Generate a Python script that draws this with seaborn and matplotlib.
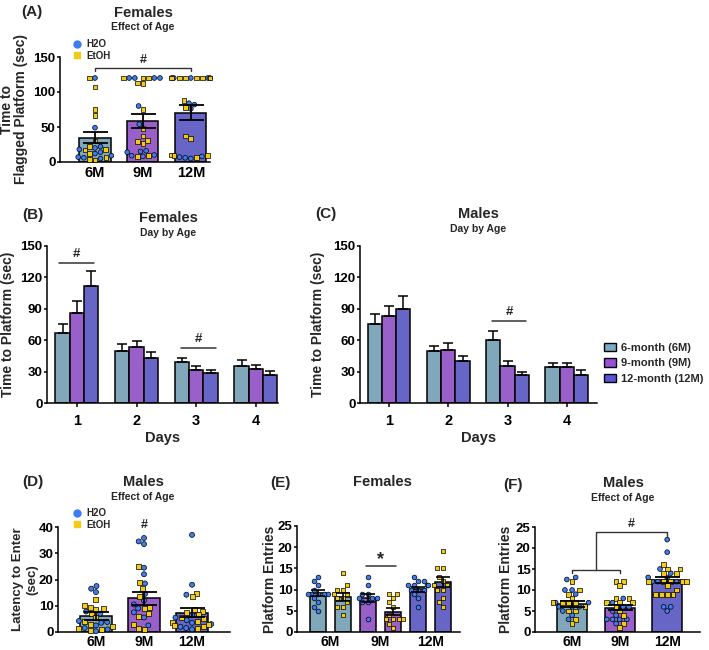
"""
Water maze multi-panel figure: age effects in females / males
"""

import numpy as np
import pandas as pd
import matplotlib
matplotlib.use('Agg')
import matplotlib.pyplot as plt
import matplotlib.colors as mcolors
import seaborn as sns
from matplotlib.lines import Line2D
from matplotlib.patches import Patch
from matplotlib.markers import MarkerStyle
from matplotlib.collections import PathCollection
import warnings
warnings.filterwarnings('ignore')

# Grafik ayarları
sns.set_theme(style='ticks')
plt.rcParams['font.family'] = ['Liberation Sans', 'DejaVu Sans']
plt.rcParams['font.weight'] = 'bold'
plt.rcParams['axes.labelweight'] = 'bold'
plt.rcParams['axes.edgecolor'] = 'black'
plt.rcParams['xtick.color'] = 'black'
plt.rcParams['ytick.color'] = 'black'

AGE_COLORS = ['#77ACC4', '#9A4FDA', '#5755D6']
H2O_COLOR = '#3E7CEF'
ETOH_COLOR = '#F3CA16'

ages = ['6M', '9M', '12M']
days = [1, 2, 3, 4]
age_legend = ['6-month (6M)', '9-month (9M)', '12-month (12M)']

# (A) females, time to flagged platform
a_mean = [34.5, 58.5, 70.5]
a_sem = [8.0, 10.5, 10.5]
a_h2o_6m = [120, 49, 22, 20, 18, 14, 12, 9, 7, 6, 5]
a_etoh_6m = [120, 107, 75, 66, 30, 22, 18, 17, 12, 6, 4, 3]
a_h2o_9m = [120, 120, 120, 120, 80, 54, 16, 15, 14, 10, 9, 8]
a_etoh_9m = [120, 120, 120, 113, 112, 75, 48, 37, 31, 29, 26, 9, 8]
a_h2o_12m = [120, 120, 120, 120, 120, 84, 82, 76, 8, 7, 6, 5]
a_etoh_12m = [120, 120, 120, 120, 120, 120, 88, 78, 37, 34, 10, 9, 9, 6]

# (B) females, day by age
b_mean_6m = [67.2, 50.1, 39.0, 35.8]
b_mean_9m = [86.3, 53.3, 31.1, 32.7]
b_mean_12m = [111.6, 42.8, 28.5, 27.0]
b_sem_6m = [8.0, 6.7, 4.4, 5.1]
b_sem_9m = [11.4, 6.0, 3.8, 3.8]
b_sem_12m = [14.6, 6.4, 3.2, 3.1]

# (C) males, day by age
c_mean_6m = [75.8, 49.4, 59.9, 34.4]
c_mean_9m = [82.8, 51.0, 35.0, 34.4]
c_mean_12m = [89.5, 39.8, 27.1, 27.1]
c_sem_6m = [8.9, 5.1, 9.2, 3.5]
c_sem_9m = [9.9, 6.6, 5.1, 3.5]
c_sem_12m = [13.0, 4.8, 2.8, 4.1]

# (D) males, latency to enter
d_mean = [6.1, 12.8, 7.4]
d_sem = [1.5, 2.4, 1.8]
d_h2o_6m = [17.5, 16.5, 15.2, 7.8, 7.0, 4.2, 3.8, 3.5, 2.5, 1.5, 1.0, 0.3]
d_etoh_6m = [12.5, 10.0, 9.3, 8.8, 8.5, 7.0, 5.5, 4.0, 3.0, 2.0, 1.5, 1.0, 0.5]
d_h2o_9m = [35.8, 34.5, 33.5, 24.5, 22.0, 18.5, 14.5, 12.0, 10.5, 9.0, 7.5, 5.5, 2.5]
d_etoh_9m = [25.0, 18.8, 16.5, 13.5, 9.5, 9.0, 7.0, 6.0, 3.0, 1.5, 1.0]
d_h2o_12m = [37.0, 18.0, 14.2, 6.5, 5.5, 4.5, 3.5, 3.0, 2.0, 1.5, 1.0]
d_etoh_12m = [14.8, 13.5, 8.5, 8.0, 7.5, 6.5, 5.5, 5.0, 4.0, 3.5, 3.0, 2.5, 2.0, 1.5]

# (E) females, platform entries by age x drink
e_groups = ['6M H2O', '6M EtOH', '9M H2O', '9M EtOH', '12M H2O', '12M EtOH']
e_mean = [9.3, 8.3, 8.0, 4.8, 10.1, 11.7]
e_sem = [0.7, 0.9, 0.9, 0.9, 0.6, 1.2]
e_h2o_6m = [13, 12, 11, 10, 9, 9, 9, 9, 9, 8, 7, 6, 5]
e_etoh_6m = [14, 11, 10, 10, 9, 9, 8, 8, 7, 6, 6, 4]
e_h2o_9m = [13, 11, 9, 9, 8, 8, 8, 7, 7, 3]
e_etoh_9m = [9, 9, 8, 7, 6, 4, 3, 3, 3, 3, 2, 1]
e_h2o_12m = [13, 12, 12, 11, 11, 11, 11, 10, 10, 10, 9, 8, 6]
e_etoh_12m = [19, 15, 15, 13, 12, 11, 11, 10, 10, 8, 7, 6]

# (F) males, platform entries
f_mean = [6.7, 5.8, 12.4]
f_sem = [0.7, 0.6, 0.7]
f_h2o_6m = [13, 12.5, 10, 10, 9, 7, 7, 6, 6, 6, 5, 4, 3]
f_etoh_6m = [12, 10, 9, 8, 7, 7, 7, 7, 6, 5, 5, 3, 2]
f_h2o_9m = [8, 7, 6, 6, 5, 4, 3, 3, 3, 3, 2]
f_etoh_9m = [12, 12, 11, 8, 8, 7, 7, 7, 6, 5, 4, 2, 1]
f_h2o_12m = [22, 19, 15, 14, 13, 13, 12, 12, 12, 6, 6, 5]
f_etoh_12m = [16, 15, 15, 14, 14, 12, 12, 12, 12, 12, 11, 10, 9, 9, 9, 9]

W, H = 709, 650
fig = plt.figure(figsize=(W / 100, H / 100), dpi=100)


def add_axes(x0, y0, x1, y1):
    return fig.add_axes([x0 / W, 1 - y1 / H, (x1 - x0) / W, (y1 - y0) / H])


def fig_text(x, y, s, size, **kw):
    fig.text(x / W, 1 - y / H, s, ha='center', va='center', fontsize=size,
             fontweight='bold', **kw)


def points_frame(h2o_lists, etoh_lists, keys):
    rows = []
    for key, h, e in zip(keys, h2o_lists, etoh_lists):
        rows += [(key, 'H2O', v) for v in h]
        rows += [(key, 'EtOH', v) for v in e]
    return pd.DataFrame(rows, columns=['age', 'drink', 'value'])


def day_frame(m6, m9, m12):
    rows = []
    for age, means in zip(ages, [m6, m9, m12]):
        for d, m in zip(days, means):
            rows.append((d, age, m))
    return pd.DataFrame(rows, columns=['day', 'age', 'mean'])


def style_axes(ax, xtick_len=0, xpad=3, xsize=10.5):
    sns.despine(ax=ax)
    for sp in ['left', 'bottom']:
        ax.spines[sp].set_linewidth(1.1)
        ax.spines[sp].set_color('black')
    ax.tick_params(axis='y', length=2.5, width=1.1, labelsize=9.5, pad=0.6)
    ax.tick_params(axis='x', length=xtick_len, width=1.1, labelsize=xsize, pad=xpad)
    ax.set_xlabel('')


def shape_markers(ax):
    """H2O -> daire, EtOH -> kare"""
    circ = MarkerStyle('o')
    sq = MarkerStyle('s')
    circ_path = circ.get_path().transformed(circ.get_transform())
    sq_path = sq.get_path().transformed(sq.get_transform())
    blue = np.array(mcolors.to_rgba(H2O_COLOR))
    for coll in ax.collections:
        if isinstance(coll, PathCollection):
            fc = coll.get_facecolors()
            coll.set_paths([circ_path if np.allclose(c, blue, atol=0.01) else sq_path
                            for c in fc])


def bar_centers(ax):
    bars = sorted(ax.patches, key=lambda b: b.get_x())
    return ([b.get_x() + b.get_width() / 2 for b in bars],
            [b.get_height() for b in bars])


def age_panel(ax, means, sems, pts, width, capsize, msize):
    summary = pd.DataFrame({'age': ages, 'mean': means})
    sns.barplot(data=summary, x='age', y='mean', hue='age', order=ages, hue_order=ages,
                palette=AGE_COLORS, width=width, edgecolor='black', linewidth=1.1,
                errorbar=None, legend=False, ax=ax)
    sns.swarmplot(data=pts, x='age', y='value', hue='drink', order=ages,
                  hue_order=['H2O', 'EtOH'],
                  palette={'H2O': H2O_COLOR, 'EtOH': ETOH_COLOR},
                  size=msize, edgecolor='black', linewidth=0.5, legend=False,
                  clip_on=False, zorder=3, ax=ax)
    shape_markers(ax)
    xs, hs = bar_centers(ax)
    ax.errorbar(xs, hs, yerr=sems, fmt='none', ecolor='black', elinewidth=1.3,
                capsize=capsize, capthick=1.3, zorder=4)


def day_panel(ax, df, sems):
    sns.barplot(data=df, x='day', y='mean', hue='age', hue_order=ages,
                palette=AGE_COLORS, width=0.72, errorbar=None, edgecolor='black',
                linewidth=1.1, legend=False, ax=ax)
    for cont, sem in zip(ax.containers, sems):
        xs = [b.get_x() + b.get_width() / 2 for b in cont]
        hs = [b.get_height() for b in cont]
        ax.errorbar(xs, hs, yerr=[np.zeros(len(sem)), sem], fmt='none', ecolor='black',
                    elinewidth=1.1, capsize=3.5, capthick=1.1, zorder=1)
    ax.set_ylim(0, 150)
    ax.set_yticks(np.arange(0, 151, 30))
    style_axes(ax, xtick_len=3, xpad=5)
    ax.set_xlabel('Days', fontsize=10.5, fontweight='bold')
    ax.xaxis.set_label_coords(0.5, -0.18)
    ax.set_ylabel('Time to Platform (sec)', fontsize=10, fontweight='bold')


def drink_legend(ax, anchor):
    handles = [Line2D([], [], marker='o', ls='', color=H2O_COLOR, ms=5, label='H2O'),
               Line2D([], [], marker='s', ls='', color=ETOH_COLOR, ms=5, label='EtOH')]
    ax.legend(handles=handles, loc='upper left', bbox_to_anchor=anchor, frameon=False,
              prop={'size': 7, 'weight': 'bold'}, handlelength=0.8, handletextpad=0.5,
              labelspacing=0.15, borderpad=0, borderaxespad=0)


def sig_line(ax, x0, x1, y, mark, text_y, size=9.5, color='#333333'):
    ax.plot([x0, x1], [y, y], color=color, lw=1.1, clip_on=False)
    ax.text((x0 + x1) / 2, text_y, mark, ha='center', va='bottom', fontsize=size,
            fontweight='bold', clip_on=False)


# ---------------- (A) ----------------
axA = add_axes(60, 57, 210, 162)
ptsA = points_frame([a_h2o_6m, a_h2o_9m, a_h2o_12m], [a_etoh_6m, a_etoh_9m, a_etoh_12m], ages)
age_panel(axA, a_mean, a_sem, ptsA, width=0.65, capsize=9, msize=3.4)
axA.set_ylim(0, 150)
axA.set_xlim(-0.73, 2.4)
axA.set_yticks([0, 50, 100, 150])
style_axes(axA)
axA.set_ylabel('Time to\nFlagged Platform (sec)', fontsize=10, fontweight='bold',
               linespacing=1.0)
axA.yaxis.set_label_coords(-0.215, 0.5)
xa, _ = bar_centers(axA)
axA.plot([xa[0], xa[0], xa[2], xa[2]], [130, 134, 134, 130], color='#333333', lw=1.0,
         clip_on=False)
axA.text(xa[1], 137, '#', ha='center', va='bottom', fontsize=9, fontweight='bold')
drink_legend(axA, (0.09, 1.17))
fig_text(143, 13, 'Females', 10.5)
fig_text(143, 27, 'Effect of Age', 7.5)
fig_text(32, 12, '(A)', 11)

# ---------------- (B) ----------------
axB = add_axes(47, 246, 278, 403)
day_panel(axB, day_frame(b_mean_6m, b_mean_9m, b_mean_12m), [b_sem_6m, b_sem_9m, b_sem_12m])
axB.set_xlim(-0.5, 3.37)
axB.yaxis.set_label_coords(-0.14, 0.5)
sig_line(axB, -0.30, 0.28, 134, '#', 137)
sig_line(axB, 1.74, 2.33, 52.3, '#', 55)
fig_text(168, 218, 'Females', 10.5)
fig_text(168, 233, 'Day by Age', 7.5)
fig_text(33, 215, '(B)', 11)

# ---------------- (C) ----------------
axC = add_axes(360, 246, 597, 403)
day_panel(axC, day_frame(c_mean_6m, c_mean_9m, c_mean_12m), [c_sem_6m, c_sem_9m, c_sem_12m])
axC.set_xlim(-0.49, 3.51)
axC.yaxis.set_label_coords(-0.148, 0.5)
sig_line(axC, 1.74, 2.31, 78.3, '#', 81.5)
legend_handles = [Patch(facecolor=c, edgecolor='black', linewidth=1.0, label=l)
                  for c, l in zip(AGE_COLORS, age_legend)]
axC.legend(handles=legend_handles, loc='upper left', bbox_to_anchor=(1.03, 0.385),
           frameon=False, prop={'size': 8, 'weight': 'bold'}, handlelength=1.1,
           handleheight=0.8, handletextpad=0.45, labelspacing=0.5, borderpad=0,
           borderaxespad=0)
fig_text(478, 214, 'Males', 10.5)
fig_text(478, 229.5, 'Day by Age', 7.5)
fig_text(326, 214, '(C)', 11)

# ---------------- (D) ----------------
axD = add_axes(58, 527, 230, 632)
ptsD = points_frame([d_h2o_6m, d_h2o_9m, d_h2o_12m], [d_etoh_6m, d_etoh_9m, d_etoh_12m], ages)
age_panel(axD, d_mean, d_sem, ptsD, width=0.67, capsize=9, msize=3.6)
axD.set_ylim(0, 40)
axD.set_xlim(-0.79, 2.79)
axD.set_yticks([0, 10, 20, 30, 40])
style_axes(axD, xpad=2.5, xsize=10)
axD.set_ylabel('Latency to Enter\n(sec)', fontsize=9.5, fontweight='bold', linespacing=1.3)
axD.yaxis.set_label_coords(-0.115, 0.5)
xd, _ = bar_centers(axD)
axD.text(xd[1], 38.3, '#', ha='center', va='bottom', fontsize=9, fontweight='bold')
drink_legend(axD, (0.09, 1.18))
fig_text(143, 482, 'Males', 10.5)
fig_text(143, 497, 'Effect of Age', 7.5)
fig_text(33, 482, '(D)', 11)

# ---------------- (E) ----------------
axE = add_axes(297, 526, 460, 632)
summaryE = pd.DataFrame({'group': e_groups, 'mean': e_mean})
e_palette = [AGE_COLORS[0], AGE_COLORS[0], AGE_COLORS[1], AGE_COLORS[1],
             AGE_COLORS[2], AGE_COLORS[2]]
sns.barplot(data=summaryE, x='group', y='mean', hue='group', order=e_groups,
            hue_order=e_groups, palette=e_palette, width=0.64, edgecolor='black',
            linewidth=1.1, errorbar=None, legend=False, ax=axE)
ptsE = points_frame([e_h2o_6m, e_h2o_9m, e_h2o_12m], [e_etoh_6m, e_etoh_9m, e_etoh_12m], ages)
ptsE['group'] = ptsE['age'] + ' ' + ptsE['drink']
sns.swarmplot(data=ptsE[ptsE['drink'] == 'H2O'], x='group', y='value', order=e_groups,
              color=H2O_COLOR, marker='o', size=3.4, edgecolor='black', linewidth=0.5,
              clip_on=False, zorder=3, ax=axE)
sns.swarmplot(data=ptsE[ptsE['drink'] == 'EtOH'], x='group', y='value', order=e_groups,
              color=ETOH_COLOR, marker='s', size=3.4, edgecolor='black', linewidth=0.5,
              clip_on=False, zorder=3, ax=axE)
xe, he = bar_centers(axE)
axE.errorbar(xe, he, yerr=e_sem, fmt='none', ecolor='black', elinewidth=1.2,
             capsize=5, capthick=1.2, zorder=4)
axE.set_ylim(0, 25)
axE.set_xlim(-0.84, 5.68)
axE.set_yticks([0, 5, 10, 15, 20, 25])
style_axes(axE, xpad=2.5, xsize=10)
axE.set_xticks([0.5, 2.5, 4.5])
axE.set_xticklabels(ages)
axE.set_ylabel('Platform Entries', fontsize=10, fontweight='bold')
axE.yaxis.set_label_coords(-0.125, 0.5)
sig_line(axE, xe[2] - 0.1, xe[3] + 0.1, 15.5, '*', 15.0, size=13)
fig_text(382, 482, 'Females', 10.5)
fig_text(280, 483, '(E)', 11)

# ---------------- (F) ----------------
axF = add_axes(535, 527, 700, 632)
ptsF = points_frame([f_h2o_6m, f_h2o_9m, f_h2o_12m], [f_etoh_6m, f_etoh_9m, f_etoh_12m], ages)
age_panel(axF, f_mean, f_sem, ptsF, width=0.63, capsize=9, msize=3.4)
axF.set_ylim(0, 25)
axF.set_xlim(-0.78, 2.69)
axF.set_yticks([0, 5, 10, 15, 20, 25])
style_axes(axF, xpad=2.5, xsize=10)
axF.set_ylabel('Platform Entries', fontsize=10, fontweight='bold')
axF.yaxis.set_label_coords(-0.133, 0.5)
xf, _ = bar_centers(axF)
mid = (xf[0] + xf[1]) / 2
axF.plot([xf[0], xf[0], xf[1], xf[1]], [14.1, 14.8, 14.8, 14.1], color='#333333', lw=1.0,
         clip_on=False)
axF.plot([mid, mid, xf[2], xf[2]], [14.8, 23.7, 23.7, 22.9], color='#333333', lw=1.0,
         clip_on=False)
axF.text((mid + xf[2]) / 2, 24.4, '#', ha='center', va='bottom', fontsize=9,
         fontweight='bold', clip_on=False)
fig_text(623, 483, 'Males', 10.5)
fig_text(623, 498, 'Effect of Age', 7.5)
fig_text(513, 485, '(F)', 11)

plt.savefig('out.png', dpi=100)
plt.close()
